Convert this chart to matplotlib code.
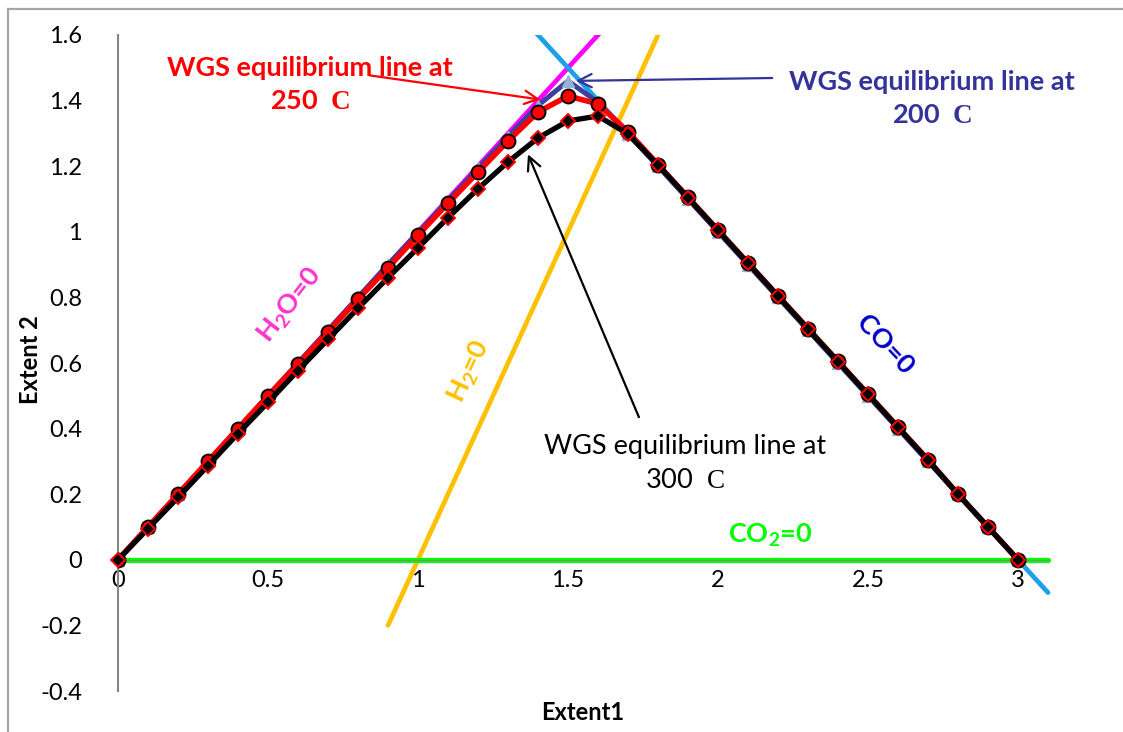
import matplotlib
matplotlib.use("Agg")
import matplotlib.pyplot as plt
from matplotlib.lines import Line2D

plt.rcParams["font.family"] = ["Lato", "DejaVu Sans"]
# math text: Lato for sub/superscripts, serif faces for the unit letter
plt.rcParams["mathtext.fontset"] = "custom"
plt.rcParams["mathtext.rm"] = "Lato"
plt.rcParams["mathtext.bf"] = "Lato:bold"
plt.rcParams["mathtext.sf"] = "Liberation Serif:bold"
plt.rcParams["mathtext.tt"] = "Liberation Serif"

# extent 1 grid shared by the three equilibrium curves
extent1 = [0.0, 0.1, 0.2, 0.3, 0.4, 0.5, 0.6, 0.7, 0.8, 0.9, 1.0,
           1.1, 1.2, 1.3, 1.4, 1.5, 1.6, 1.7, 1.8, 1.9, 2.0,
           2.1, 2.2, 2.3, 2.4, 2.5, 2.6, 2.7, 2.8, 2.9, 3.0]

wgs_200 = [0.0, 0.1, 0.2, 0.3, 0.4, 0.5, 0.6, 0.7, 0.8, 0.9, 0.997,
           1.095, 1.193, 1.29, 1.385, 1.46, 1.395, 1.298, 1.2, 1.1, 1.0,
           0.9, 0.8, 0.7, 0.6, 0.5, 0.4, 0.3, 0.2, 0.1, 0.0]
wgs_250 = [0.0, 0.1, 0.2, 0.3, 0.4, 0.5, 0.597, 0.695, 0.795, 0.89, 0.99,
           1.087, 1.182, 1.277, 1.365, 1.414, 1.39, 1.305, 1.205, 1.105, 1.005,
           0.905, 0.805, 0.705, 0.605, 0.505, 0.405, 0.305, 0.2, 0.1, 0.0]
wgs_300 = [0.0, 0.095, 0.19, 0.287, 0.385, 0.48, 0.577, 0.672, 0.767, 0.86, 0.951,
           1.043, 1.131, 1.213, 1.286, 1.338, 1.353, 1.298, 1.204, 1.104, 1.004,
           0.904, 0.804, 0.704, 0.604, 0.504, 0.404, 0.304, 0.2, 0.1, 0.0]

# zero-mole boundary lines
h2o_x, h2o_y = [0.0, 1.62], [0.0, 1.62]
co_x, co_y = [1.38, 3.1], [1.62, -0.1]
h2_x, h2_y = [0.9, 1.8], [-0.2, 1.6]
co2_x, co2_y = [0.0, 3.1], [0.0, 0.0]

x_ticks = [0, 0.5, 1, 1.5, 2, 2.5, 3]
x_tick_labels = ["0", "0.5", "1", "1.5", "2", "2.5", "3"]
y_ticks = [-0.4, -0.2, 0, 0.2, 0.4, 0.6, 0.8, 1, 1.2, 1.4, 1.6]
y_tick_labels = ["-0.4", "-0.2", "0", "0.2", "0.4", "0.6", "0.8", "1", "1.2", "1.4", "1.6"]

W, H = 1123, 732
fig = plt.figure(figsize=(W / 100, H / 100), dpi=100)
ax = fig.add_axes([118 / W, 41 / H, 960 / W, 656 / H])
ax.set_xlim(0, 3.2)
ax.set_ylim(-0.4, 1.6)

# chart border (grey frame)
fig.add_artist(Line2D([8 / W, 8 / W], [0, 1 - 9 / H], color="#A6A6A6", lw=1.6,
                      transform=fig.transFigure))
fig.add_artist(Line2D([8 / W, 1], [1 - 9 / H, 1 - 9 / H], color="#A6A6A6", lw=1.6,
                      transform=fig.transFigure))

# boundary lines
ax.plot(h2o_x, h2o_y, color="#FF00FF", lw=3.4, solid_capstyle="round", zorder=2)
ax.plot(co_x, co_y, color="#1CA0E8", lw=3.4, solid_capstyle="round", zorder=2)
ax.plot(h2_x, h2_y, color="#FFC000", lw=3.4, solid_capstyle="round", zorder=2)
ax.plot(co2_x, co2_y, color="#00FF00", lw=3.8, solid_capstyle="round", zorder=2, clip_on=False)

# equilibrium curves
ax.plot(extent1, wgs_200, color="#3F3F9F", lw=3.6, marker="^", ms=8,
        mfc="#95B3D7", mec="#95B3D7", zorder=3)
ax.plot(extent1, wgs_250, color="#FF0000", lw=4.0, marker="o", ms=10,
        mfc="#FF0000", mec="black", mew=1.4, zorder=4)
ax.plot(extent1, wgs_300, color="black", lw=3.8, marker="D", ms=7.5,
        mfc="black", mec="#FF0000", mew=1.4, zorder=5, clip_on=False)

# axes crossing at zero
for side in ["top", "right"]:
    ax.spines[side].set_visible(False)
ax.spines["left"].set_position(("data", 0))
ax.spines["bottom"].set_position(("data", 0))
ax.spines["bottom"].set_bounds(0, 3.1)
ax.spines["left"].set_color("#868686")
ax.spines["bottom"].set_color("#868686")
ax.spines["left"].set_linewidth(1.5)
ax.set_xticks(x_ticks, x_tick_labels)
ax.set_yticks(y_ticks, y_tick_labels)
ax.tick_params(axis="both", length=0, labelsize=17)
ax.tick_params(axis="y", pad=26)
ax.tick_params(axis="x", pad=7)

fig.text(30 / W, 1 - 360 / H, "Extent 2", rotation=90, ha="center", va="center",
         fontsize=17, fontweight="bold")
fig.text(583 / W, 1 - 712 / H, "Extent1", ha="center", va="center",
         fontsize=17, fontweight="bold")

# curve labels with arrows
arrow_kw = dict(arrowstyle="->", lw=1.6, mutation_scale=24)
ax.annotate("", xy=(1.417, 1.402), xytext=(0.83, 1.478),
            arrowprops=dict(color="#FF0000", **arrow_kw), zorder=6)
ax.text(0.64, 1.45, "WGS equilibrium line at\n250  $\\mathsf{C}$", color="#FF0000",
        ha="center", va="center", fontsize=19.5, fontweight="bold", linespacing=1.45)

ax.annotate("", xy=(1.517, 1.46), xytext=(2.19, 1.469),
            arrowprops=dict(color="#333399", **arrow_kw), zorder=6)
ax.text(2.713, 1.405, "WGS equilibrium line at\n200  $\\mathsf{C}$", color="#333399",
        ha="center", va="center", fontsize=19.5, fontweight="bold", linespacing=1.45)

ax.annotate("", xy=(1.363, 1.244), xytext=(1.74, 0.427),
            arrowprops=dict(color="black", **arrow_kw), zorder=6)
ax.text(1.89, 0.295, "WGS equilibrium line at\n300  $\\mathtt{C}$", color="black",
        ha="center", va="center", fontsize=19.5, linespacing=1.45)

# boundary labels
ax.text(0.573, 0.777, "H$_\\mathbf{2}$O=0", color="#FF33CC", rotation=52, ha="center",
        va="center", fontsize=19.5, fontweight="bold")
ax.text(1.173, 0.573, "H$_\\mathbf{2}$=0", color="#FFC000", rotation=65, ha="center",
        va="center", fontsize=19.5, fontweight="bold")
ax.text(2.557, 0.655, "CO=0", color="#0000CC", rotation=-47, ha="center",
        va="center", fontsize=19.5, fontweight="bold")
ax.text(2.173, 0.076, "CO$_\\mathbf{2}$=0", color="#00FF00", ha="center",
        va="center", fontsize=19.5, fontweight="bold")

fig.savefig("out.png", dpi=100)
